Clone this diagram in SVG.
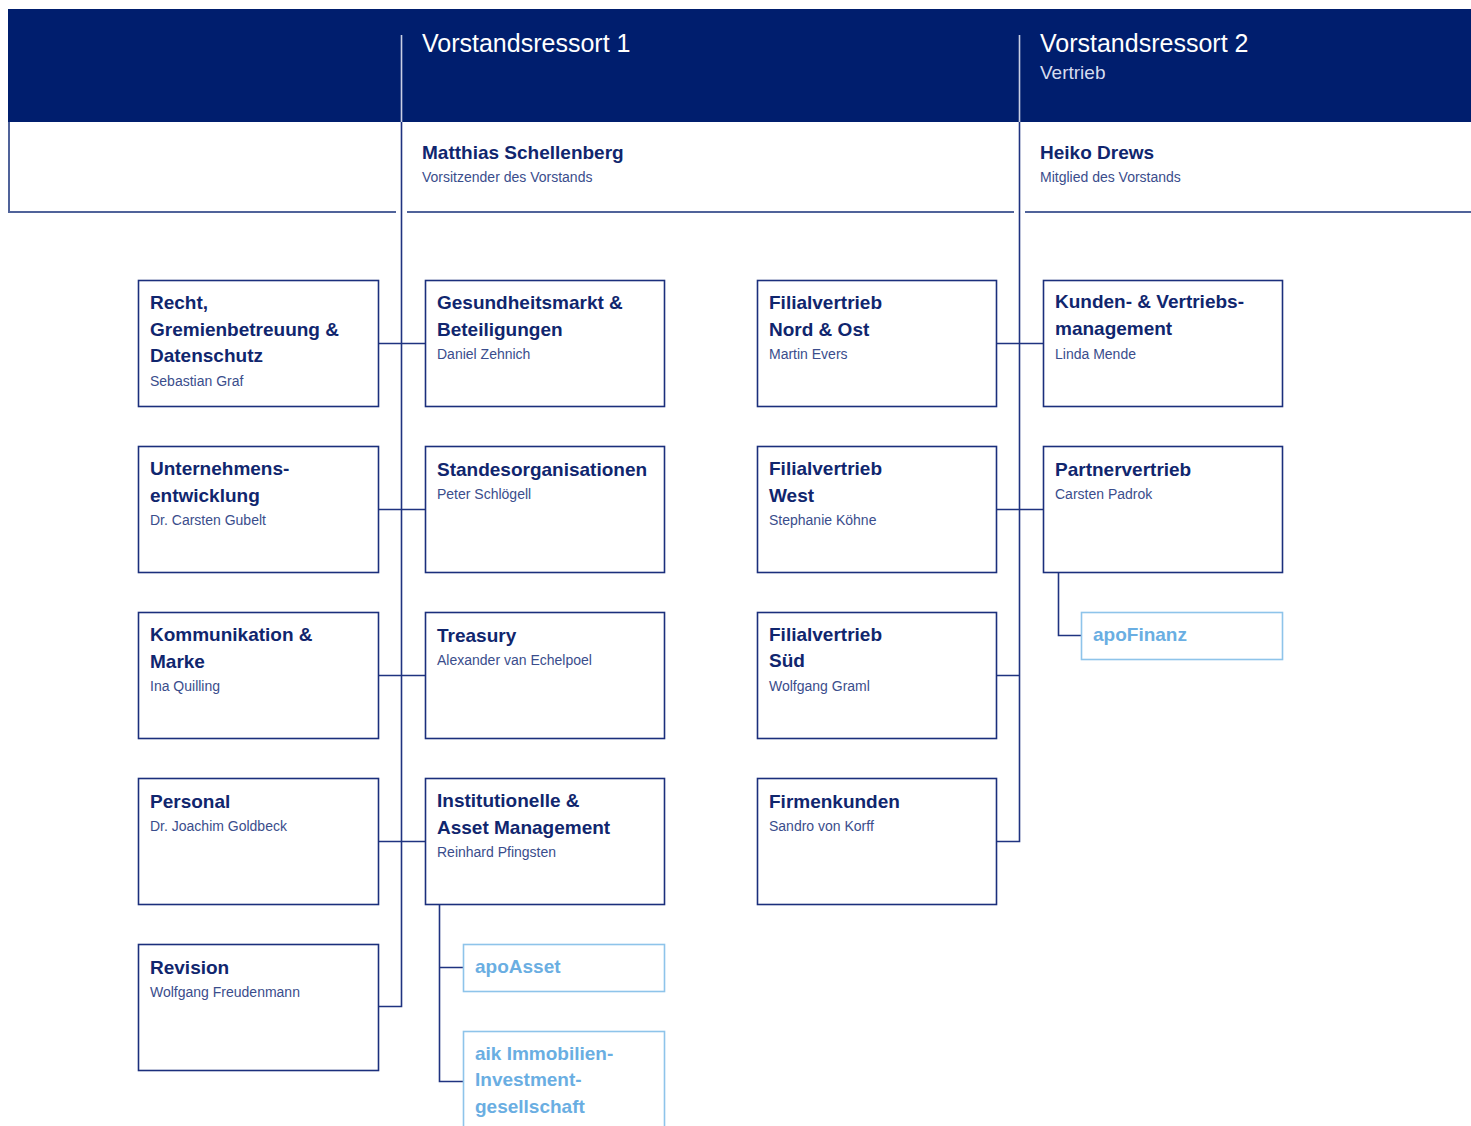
<svg xmlns="http://www.w3.org/2000/svg" width="1471" height="1126" viewBox="0 0 1471 1126">
<style>
.box{fill:#fff;stroke:#1b2f7c;stroke-width:1.6}
.sub{fill:#fff;stroke:#8ec4ea;stroke-width:1.6}
.t{font-family:"Liberation Sans",Arial,sans-serif;font-weight:bold;font-size:19px;fill:#10266e}
.n{font-family:"Liberation Sans",Arial,sans-serif;font-size:14px;fill:#3a4d8c}
.s{font-family:"Liberation Sans",Arial,sans-serif;font-weight:bold;font-size:19px;fill:#6aaee2}
.h{font-family:"Liberation Sans",Arial,sans-serif;font-size:25px;fill:#fff}
.hv{font-family:"Liberation Sans",Arial,sans-serif;font-size:19px;fill:#d6dcef}
.c{fill:none;stroke:#1f3380;stroke-width:1.6}
.cs{fill:none;stroke:#1f3380;stroke-width:1.6}
.rule{fill:none;stroke:#50639a;stroke-width:2}
</style>
<rect width="1471" height="1126" fill="#fff"/>
<g id="header">
<rect x="8" y="9" width="1463" height="113" fill="#001e6e"/>
<path class="rule" d="M9 122V212M8 212H396M407 212H1014M1025 212H1471"/>
</g>
<g id="connectors">
<path d="M401.5 35V122M1019.5 35V122" stroke="#c9cfe3" stroke-width="1.6" fill="none"/>
<path class="c" d="M401.5 122V1006.5H378M378 343.5H425M378 509.5H425M378 675.5H425M378 841.5H425"/>
<path class="c" d="M1019.5 122V841.5H996M996 343.5H1043M996 509.5H1043M996 675.5H1019.5"/>
<path class="cs" d="M1058.5 572V635.5H1081"/>
<path class="cs" d="M439.5 904V1081.5H463M439.5 967.5H463"/>
</g>
<g id="vr1">
<text class="h" x="422" y="52">Vorstandsressort 1</text>
<text class="t" x="422" y="159">Matthias Schellenberg</text>
<text class="n" x="422" y="182">Vorsitzender des Vorstands</text>
</g>
<g id="vr2">
<text class="h" x="1040" y="52">Vorstandsressort 2</text>
<text class="hv" x="1040" y="79">Vertrieb</text>
<text class="t" x="1040" y="159">Heiko Drews</text>
<text class="n" x="1040" y="182">Mitglied des Vorstands</text>
</g>
<g id="recht">
<rect class="box" x="138.5" y="280.5" width="240" height="126"/>
<text class="t" x="150" y="309">Recht,</text>
<text class="t" x="150" y="335.5">Gremienbetreuung &amp;</text>
<text class="t" x="150" y="362">Datenschutz</text>
<text class="n" x="150" y="386">Sebastian Graf</text>
</g>
<g id="unternehmensentwicklung">
<rect class="box" x="138.5" y="446.5" width="240" height="126"/>
<text class="t" x="150" y="475">Unternehmens-</text>
<text class="t" x="150" y="501.5">entwicklung</text>
<text class="n" x="150" y="525">Dr. Carsten Gubelt</text>
</g>
<g id="kommunikation">
<rect class="box" x="138.5" y="612.5" width="240" height="126"/>
<text class="t" x="150" y="641">Kommunikation &amp;</text>
<text class="t" x="150" y="667.5">Marke</text>
<text class="n" x="150" y="691">Ina Quilling</text>
</g>
<g id="personal">
<rect class="box" x="138.5" y="778.5" width="240" height="126"/>
<text class="t" x="150" y="807.5">Personal</text>
<text class="n" x="150" y="831">Dr. Joachim Goldbeck</text>
</g>
<g id="revision">
<rect class="box" x="138.5" y="944.5" width="240" height="126"/>
<text class="t" x="150" y="973.5">Revision</text>
<text class="n" x="150" y="997">Wolfgang Freudenmann</text>
</g>
<g id="gesundheitsmarkt">
<rect class="box" x="425.5" y="280.5" width="239" height="126"/>
<text class="t" x="437" y="309">Gesundheitsmarkt &amp;</text>
<text class="t" x="437" y="335.5">Beteiligungen</text>
<text class="n" x="437" y="359">Daniel Zehnich</text>
</g>
<g id="standesorganisationen">
<rect class="box" x="425.5" y="446.5" width="239" height="126"/>
<text class="t" x="437" y="475.5">Standesorganisationen</text>
<text class="n" x="437" y="499">Peter Schlögell</text>
</g>
<g id="treasury">
<rect class="box" x="425.5" y="612.5" width="239" height="126"/>
<text class="t" x="437" y="641.5">Treasury</text>
<text class="n" x="437" y="665">Alexander van Echelpoel</text>
</g>
<g id="institutionelle">
<rect class="box" x="425.5" y="778.5" width="239" height="126"/>
<text class="t" x="437" y="807">Institutionelle &amp;</text>
<text class="t" x="437" y="833.5">Asset Management</text>
<text class="n" x="437" y="857">Reinhard Pfingsten</text>
</g>
<g id="apoasset">
<rect class="sub" x="463.5" y="944.5" width="201" height="47"/>
<text class="s" x="475" y="973">apoAsset</text>
</g>
<g id="aik">
<rect class="sub" x="463.5" y="1031.5" width="201" height="110"/>
<text class="s" x="475" y="1059.5">aik Immobilien-</text>
<text class="s" x="475" y="1086">Investment-</text>
<text class="s" x="475" y="1112.5">gesellschaft</text>
</g>
<g id="filial-nord-ost">
<rect class="box" x="757.5" y="280.5" width="239" height="126"/>
<text class="t" x="769" y="309">Filialvertrieb</text>
<text class="t" x="769" y="335.5">Nord &amp; Ost</text>
<text class="n" x="769" y="359">Martin Evers</text>
</g>
<g id="filial-west">
<rect class="box" x="757.5" y="446.5" width="239" height="126"/>
<text class="t" x="769" y="475">Filialvertrieb</text>
<text class="t" x="769" y="501.5">West</text>
<text class="n" x="769" y="525">Stephanie Köhne</text>
</g>
<g id="filial-sued">
<rect class="box" x="757.5" y="612.5" width="239" height="126"/>
<text class="t" x="769" y="640.5">Filialvertrieb</text>
<text class="t" x="769" y="667">Süd</text>
<text class="n" x="769" y="691">Wolfgang Graml</text>
</g>
<g id="firmenkunden">
<rect class="box" x="757.5" y="778.5" width="239" height="126"/>
<text class="t" x="769" y="807.5">Firmenkunden</text>
<text class="n" x="769" y="831">Sandro von Korff</text>
</g>
<g id="kunden-vertriebsmanagement">
<rect class="box" x="1043.5" y="280.5" width="239" height="126"/>
<text class="t" x="1055" y="307.5">Kunden- &amp; Vertriebs-</text>
<text class="t" x="1055" y="334.5">management</text>
<text class="n" x="1055" y="359">Linda Mende</text>
</g>
<g id="partnervertrieb">
<rect class="box" x="1043.5" y="446.5" width="239" height="126"/>
<text class="t" x="1055" y="475.5">Partnervertrieb</text>
<text class="n" x="1055" y="499">Carsten Padrok</text>
</g>
<g id="apofinanz">
<rect class="sub" x="1081.5" y="612.5" width="201" height="47"/>
<text class="s" x="1093" y="641">apoFinanz</text>
</g>
</svg>
